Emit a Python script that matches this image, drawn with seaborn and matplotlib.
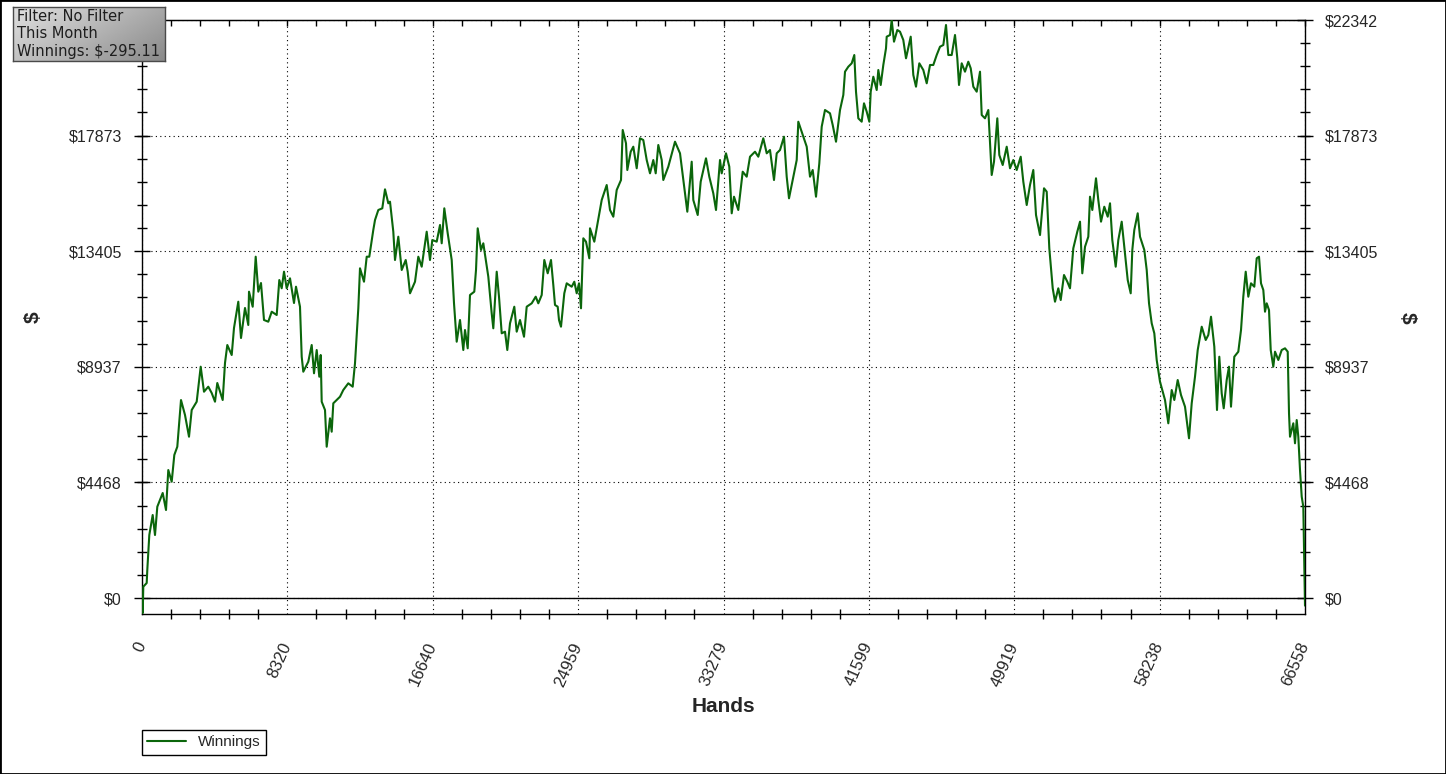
#!/usr/bin/env python3
"""
Winnings graph (hands vs. $) redrawn with seaborn.
    Usage:
    python3 plot.py
"""

import matplotlib
matplotlib.use("Agg")
import matplotlib.pyplot as plt
from matplotlib.patches import Rectangle
from matplotlib.ticker import FixedLocator
import numpy as np
import pandas as pd
import seaborn as sns

OUT_FILE = "out.png"

# cumulative winnings
HANDS = [
    0, 40, 74, 269, 303, 418, 612, 744, 876, 1185,
    1374, 1505, 1700, 1849, 2020, 2232, 2461, 2690, 2844, 3130,
    3359, 3548, 3794, 3989, 4178, 4309, 4618, 4750, 4882, 5134,
    5265, 5511, 5666, 5895, 6083, 6124, 6335, 6507, 6656, 6810,
    6982, 7228, 7423, 7709, 7858, 7995, 8127, 8281, 8470, 8699,
    8813, 9042, 9140, 9231, 9517, 9712, 9844, 9998, 10147, 10227,
    10284, 10473, 10570, 10759, 10856, 10948, 11332, 11520, 11806, 12058,
    12190, 12379, 12476, 12705, 12860, 13008, 13237,
    13335, 13524, 13752, 13907, 14096, 14193, 14382, 14479, 14668, 14863,
    15092, 15206, 15338, 15624, 15813, 16007, 16293, 16482, 16614, 16866,
    17055, 17152, 17301, 17495, 17724, 17856, 18010, 18199, 18388, 18485,
    18640, 18771, 19017, 19115, 19212, 19401, 19533, 19819, 20013, 20105,
    20300, 20431, 20586, 20774, 20906, 21061, 21307, 21444, 21633, 21862,
    22016, 22303, 22532, 22680, 22875, 23024, 23218, 23407, 23539, 23636,
    23791, 23865, 23979, 24168, 24306, 24592, 24741, 24878, 25010, 25124,
    25256, 25410, 25599, 25639, 25885, 26023, 26309, 26595, 26784, 26973,
    27167, 27413, 27511, 27699, 27774, 27968, 28117, 28312, 28500, 28689,
    28884, 29073, 29262, 29399, 29548, 29742, 29834, 30120, 30504, 30790,
    30979, 31208, 31459, 31551, 31803, 31974, 32277, 32466, 32695, 32850,
    33079, 33176, 33422, 33611, 33749, 33880, 34126, 34378, 34607, 34796,
    35082, 35271, 35557, 35752, 35940, 36169, 36324, 36513, 36742, 36896,
    37028, 37274, 37469, 37560, 37846, 38041, 38230, 38384, 38573, 38762,
    38899, 39088, 39374, 39529, 39718, 39947,
    40136, 40233, 40422, 40616, 40765, 40862, 40994, 41188, 41320, 41475,
    41624, 41704, 41853, 42047, 42139, 42276, 42425, 42579, 42619, 42808,
    42905, 43037, 43226, 43380, 43569, 43724, 43993, 44142, 44296, 44485,
    44714, 44909, 45097, 45286, 45481, 45670, 45859, 46013, 46145, 46339,
    46528, 46660, 46757, 46911, 47100, 47289, 47427, 47576, 47770, 47959,
    48056, 48245, 48434, 48531, 48628, 48760, 48949, 49063, 49258, 49487,
    49676, 49865, 50059, 50288, 50437, 50632, 50820, 51009, 51164, 51393,
    51622, 51776, 51925, 52120, 52251, 52440, 52578, 52766, 52955, 53109,
    53298, 53527, 53682,
    53813, 53968, 54157, 54254, 54386, 54597, 54729, 54884, 55072, 55267,
    55399, 55530, 55725, 55874, 56068, 56257, 56412, 56583, 56675, 56789,
    56984, 57116, 57362, 57499, 57631, 57785, 57934, 58071, 58260, 58392,
    58546, 58735, 58930, 59079, 59273, 59462, 59691, 59920, 60074, 60263,
    60418, 60647, 60876, 61024, 61179, 61368, 61522, 61654, 61791, 61906,
    62077, 62209, 62323, 62512, 62741, 62896, 63027, 63165, 63314, 63468,
    63657, 63794, 63926, 64040, 64172, 64269, 64366, 64498, 64596, 64744,
    64842, 65031, 65225, 65414, 65569, 65643, 65700, 65889, 65986, 66083,
    66175, 66272, 66370, 66461, 66558,
]

WINNINGS = [
    0, -580, 437, 580, 1082, 2435, 3208, 2435, 3529, 4059,
    3402, 4948, 4495, 5528, 5848, 7653, 7074, 6235, 7267, 7588,
    8941, 7974, 8168, 7924, 7588, 8311, 7653, 9084, 9779, 9393,
    10437, 11453, 10050, 11210, 10553, 11840, 11260, 13193, 11840, 12176,
    10746, 10680, 11067, 10939, 12292, 11971, 12613, 11971, 12358, 11403,
    12033, 11260, 9327, 8747, 9134, 9779, 8686, 9586, 8554, 9393,
    7588, 7267, 5848, 6946, 6428, 7526, 7781, 8040, 8299, 8168,
    9072, 11198, 12744, 12226, 13193, 13193, 14225,
    14611, 14998, 15063, 15798, 15257, 15319, 14159, 13065, 13966, 12679,
    13065, 12613, 11778, 12226, 13193, 12806, 14159, 13065, 13838, 13773,
    14418, 13711, 15063, 14097, 13065, 11391, 9907, 10746, 9586, 10359,
    9652, 11712, 11840, 12679, 14290, 13452, 13711, 12420, 11005, 10425,
    12613, 11647, 10232, 10294, 9586, 10618, 11260, 10294, 10746, 10100,
    11260, 11391, 11647, 11391, 11712, 13065, 12551, 13065, 12099, 11326,
    11260, 10746, 10487, 11778, 12164, 12033, 12226, 11778, 12164, 11198,
    13904, 13773, 13131, 14290, 13773, 14290, 15384, 15964, 14998, 14739,
    15771, 16157, 18090, 17576, 16544, 17251, 17445, 16610, 17769, 17704,
    16930, 16416, 16930, 16416, 17510, 16930, 16157, 16672, 17638, 17189,
    16157, 14932, 16865, 15384, 14804, 16092, 16996, 16285, 15643, 14998,
    16930, 16416, 17189, 16672, 14870, 15512, 14998, 16478, 16285, 17058,
    17251, 17058, 17769, 17189, 17317, 16157, 17189, 17317, 17831, 16285,
    15450, 16285, 16930, 18411, 17831, 17445, 16285, 16544, 15512, 16803,
    18218, 18863, 18736, 18283, 17638, 18863,
    19443, 20344, 20537, 20668, 20989, 19571, 18542, 18411, 19122, 18797,
    18411, 19571, 20150, 19636, 20409, 19830, 20603, 21248, 21697, 21762,
    22342, 21503, 21955, 21890, 21569, 20861, 21697, 20216, 19764, 20668,
    20409, 19895, 20603, 20603, 20989, 21310, 21376, 22149, 20989, 20989,
    21762, 20861, 19830, 20668, 20344, 20730, 20475, 19764, 19571, 20344,
    18670, 18542, 18863, 17638, 16351, 16865, 18542, 17124, 16737, 17445,
    16610, 16930, 16544, 17058, 16092, 15191, 15964, 16544, 14804, 14031,
    15837, 15705, 13517, 11971, 11453, 11971, 11519, 12485, 12226, 11971,
    13517, 14159, 14546,
    12551, 13579, 13966, 15512, 14998, 16223, 15384, 14546, 15125, 14739,
    15257, 13838, 12806, 13838, 14546, 13324, 12292, 11778, 13452, 14225,
    14870, 13966, 13452, 12679, 11391, 10618, 10232, 9200, 8361, 8040,
    7653, 6753, 8040, 7653, 8427, 7847, 7395, 6173, 7526, 8554,
    9586, 10487, 9973, 10166, 10873, 9714, 7267, 9327, 7912, 7333,
    8427, 8941, 7395, 9327, 9521, 10359, 11647, 12613, 11647, 12164,
    12033, 13131, 13193, 12164, 11905, 11067, 11391, 11132, 9586, 8941,
    9521, 9200, 9586, 9652, 9521, 7139, 6235, 6753, 5980, 6880,
    6235, 4948, 3916, 3529, -295.11,
]

X_TICKS = [0, 8320, 16640, 24959, 33279, 41599, 49919, 58238, 66558]
Y_TICKS = [0, 4468, 8937, 13405, 17873, 22342]
Y_MIN = -618

INFO_LINES = ["Filter: No Filter", "This Month", "Winnings: $-295.11"]
SERIES_NAME = "Winnings"
LINE_COLOR = "#0b660b"

W, H = 1446, 774


def px_box(left, top, right, bottom):
    """Pixel box (from top-left) -> figure fraction rect."""
    return [left / W, 1 - bottom / H, (right - left) / W, (bottom - top) / H]


def main():
    sns.set_style("white")
    plt.rcParams["font.family"] = ["Liberation Sans", "DejaVu Sans"]

    fig = plt.figure(figsize=(W / 100, H / 100), dpi=100)
    ax = fig.add_axes(px_box(142, 20, 1305, 614))

    df = pd.DataFrame({"Hands": HANDS, "Winnings": WINNINGS})
    sns.lineplot(data=df, x="Hands", y="Winnings", ax=ax, color=LINE_COLOR,
                 linewidth=1.5, sort=False, estimator=None, label=SERIES_NAME,
                 zorder=3)

    ax.set_xlim(X_TICKS[0], X_TICKS[-1])
    ax.set_ylim(Y_MIN, Y_TICKS[-1])

    # ticks: labelled majors, 5 minors per interval
    ax.xaxis.set_major_locator(FixedLocator(X_TICKS))
    ax.xaxis.set_minor_locator(FixedLocator(np.linspace(X_TICKS[0], X_TICKS[-1], 41)))
    ax.yaxis.set_major_locator(FixedLocator(Y_TICKS))
    ax.yaxis.set_minor_locator(FixedLocator(np.linspace(Y_TICKS[0], Y_TICKS[-1], 26)))
    ax.set_xticklabels([str(t) for t in X_TICKS], rotation=66, ha="right",
                       va="center", rotation_mode="anchor")
    ax.set_yticklabels([f"${t}" for t in Y_TICKS])

    ax.tick_params(axis="x", which="major", direction="inout", length=14,
                   width=1, color="black", labelsize=12, pad=14)
    ax.tick_params(axis="x", which="minor", direction="inout", length=7.5,
                   width=1, color="black", bottom=True)
    ax.tick_params(axis="y", which="major", direction="inout", length=11,
                   width=1, color="black", left=True, right=True,
                   labelleft=True, labelright=True, labelsize=11.5, pad=9)
    ax.tick_params(axis="y", which="minor", direction="inout", length=7,
                   width=1, color="black", left=True, right=True)
    # the top-left label sits under the info box in the original
    ax.yaxis.get_major_ticks()[-1].label1.set_visible(False)

    top = ax.secondary_xaxis("top")
    top.xaxis.set_major_locator(FixedLocator(X_TICKS))
    top.xaxis.set_minor_locator(FixedLocator(np.linspace(X_TICKS[0], X_TICKS[-1], 41)))
    top.tick_params(which="both", direction="in", length=4, width=1,
                    labeltop=False, color="black")

    for spine in ax.spines.values():
        spine.set_visible(True)
        spine.set_color("black")
        spine.set_linewidth(1)

    # dotted grid, solid zero line
    ax.grid(True, which="major", color="black", linestyle=(0, (1, 3)), linewidth=0.8)
    ax.axhline(0, color="black", linewidth=1, zorder=2)

    ax.set_xlabel("Hands", fontsize=15, fontweight="bold")
    ax.xaxis.set_label_coords(0.5, -0.139)
    ax.set_ylabel("$", fontsize=15, fontweight="bold")
    ax.yaxis.set_label_coords(-0.085, 0.5)
    fig.text(1407 / W, 1 - 318 / H, "$", fontsize=15, fontweight="bold",
             rotation=270, ha="center", va="center")

    leg = ax.legend(loc="upper left", bbox_to_anchor=(142 / W, 1 - 730 / H),
                    bbox_transform=fig.transFigure, frameon=True, fancybox=False,
                    edgecolor="black", framealpha=1, fontsize=11, handlelength=2.5,
                    handletextpad=0.8, borderaxespad=0, borderpad=0.35)
    leg.get_frame().set_linewidth(1)

    # info box in the top-left corner, grey gradient
    box = fig.add_axes(px_box(13, 7, 165, 61), zorder=10)
    gx, gy = np.meshgrid(np.linspace(0, 1, 200), np.linspace(0, 1, 60))
    shade = 0.88 - 0.34 * (0.65 * gx + 0.35 * gy)
    box.imshow(shade, cmap="gray", vmin=0, vmax=1, aspect="auto",
               extent=(0, 1, 0, 1), origin="upper")
    box.set_xticks([])
    box.set_yticks([])
    for spine in box.spines.values():
        spine.set_color("#4a4a4a")
        spine.set_linewidth(1)
    # one multi-line text keeps the three lines evenly spaced
    box.text(0.025, 0.5, "\n".join(INFO_LINES), transform=box.transAxes,
             fontsize=10.5, family="DejaVu Sans", color="#1e1e1e",
             ha="left", va="center", linespacing=1.2)

    fig.patches.append(Rectangle((0, 0), 1, 1, transform=fig.transFigure,
                                 fill=False, edgecolor="black", linewidth=2))

    fig.savefig(OUT_FILE, dpi=100)
    plt.close(fig)


if __name__ == "__main__":
    main()
